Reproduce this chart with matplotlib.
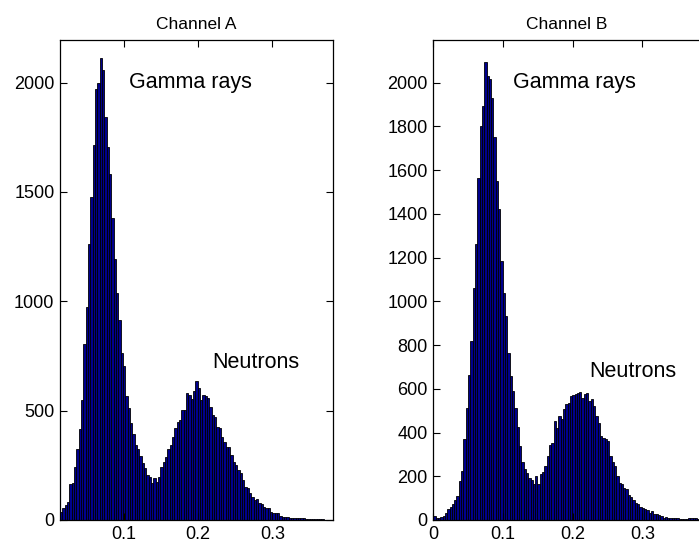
import numpy as np
import matplotlib
matplotlib.use("Agg")
import matplotlib.pyplot as plt

plt.rcParams['font.family'] = ['Liberation Sans', 'DejaVu Sans']

# ---- data ----
titles = ["Channel A", "Channel B"]

countsA = [38, 53, 69, 84, 165, 171, 241, 323, 415, 549,
           805, 975, 1262, 1477, 1714, 1969, 1997, 2112, 2058, 1842,
           1707, 1580, 1379, 1192, 1036, 914, 762, 704, 567, 510,
           442, 393, 343, 323, 293, 262, 236, 206, 198, 168,
           190, 175, 198, 244, 267, 290, 323, 343, 381, 419,
           450, 457, 503, 503, 579, 571, 552, 590, 637, 602,
           549, 571, 567, 556, 518, 480, 472, 427, 419, 381,
           358, 335, 332, 297, 267, 251, 229, 213, 183, 152,
           145, 122, 104, 91, 94, 76, 72, 61, 57, 53,
           35, 30, 30, 30, 20, 15, 14, 14, 11, 8,
           8, 8, 8, 8, 11, 5, 5, 5, 5, 5,
           5, 3, 3, 2, 2, 2, 2]
xrangeA = (0.0135, 0.382)

countsB = [18, 8, 8, 14, 18, 34, 52, 59, 72, 90,
           110, 178, 224, 369, 514, 663, 818, 1062, 1263, 1565,
           1801, 1893, 2095, 2030, 2015, 1931, 1751, 1550, 1420, 1184,
           1039, 933, 765, 658, 590, 514, 425, 338, 267, 232,
           216, 194, 181, 163, 201, 163, 209, 221, 247, 293,
           343, 354, 453, 422, 475, 463, 506, 529, 536, 567,
           572, 575, 582, 587, 556, 578, 582, 544, 552, 521,
           475, 445, 384, 376, 369, 361, 293, 267, 247, 201,
           171, 163, 148, 140, 114, 105, 90, 79, 72, 59,
           53, 52, 44, 34, 41, 29, 26, 23, 18, 11,
           14, 11, 8, 11, 11, 8, 5, 5, 4, 5,
           8, 8, 11, 8, 5]
xrangeB = (0.0, 0.382)

yticksA = [0, 500, 1000, 1500, 2000]
yticksB = list(range(0, 2001, 200))
xticksA = [0.1, 0.2, 0.3]
xticksB = [0, 0.1, 0.2, 0.3]
xticklabelsA = ["0.1", "0.2", "0.3"]
xticklabelsB = ["0", "0.1", "0.2", "0.3"]

labels = ["Gamma rays", "Neutrons"]
label_posA = [(0.1067, 2000), (0.2187, 718)]
label_posB = [(0.1143, 2000), (0.2234, 677)]

W, H = 699, 548
fig = plt.figure(figsize=(W / 100, H / 100), dpi=100)

axA = fig.add_axes([60 / W, (H - 520) / H, 273 / W, 480 / H])
axB = fig.add_axes([433.3 / W, (H - 520) / H, (701 - 433.3) / W, 480 / H])

face = '#00008c'

def draw(ax, counts, xr, xlim, yticks, xticks, xtl, title, lpos, right_ticks):
    n = len(counts)
    edges = np.linspace(xr[0], xr[1], n + 1)
    w = edges[1] - edges[0]
    ax.bar(edges[:-1], counts, width=w, align='edge', color=face,
           edgecolor='black', linewidth=0.6)
    ax.set_xlim(*xlim)
    ax.set_ylim(0, 2195)
    ax.set_yticks(yticks)
    ax.set_yticklabels([str(t) for t in yticks])
    ax.set_xticks(xticks)
    ax.set_xticklabels(xtl)
    ax.tick_params(direction='in', top=True, right=right_ticks, length=5,
                   labelsize=13, width=0.8, pad=4)
    for s in ax.spines.values():
        s.set_linewidth(0.9)
    ax.set_title(title, fontsize=12.5, pad=8)
    for lab, (x, y) in zip(labels, lpos):
        ax.text(x, y, lab, fontsize=15.5, ha='left', va='center')

draw(axA, countsA, xrangeA, xrangeA, yticksA, xticksA, xticklabelsA,
     titles[0], label_posA, True)
xmaxB = (701 - 433.3) / 697.0
draw(axB, countsB, xrangeB, (0.0, xmaxB), yticksB, xticksB, xticklabelsB,
     titles[1], label_posB, False)

fig.savefig("out.png", dpi=100)
